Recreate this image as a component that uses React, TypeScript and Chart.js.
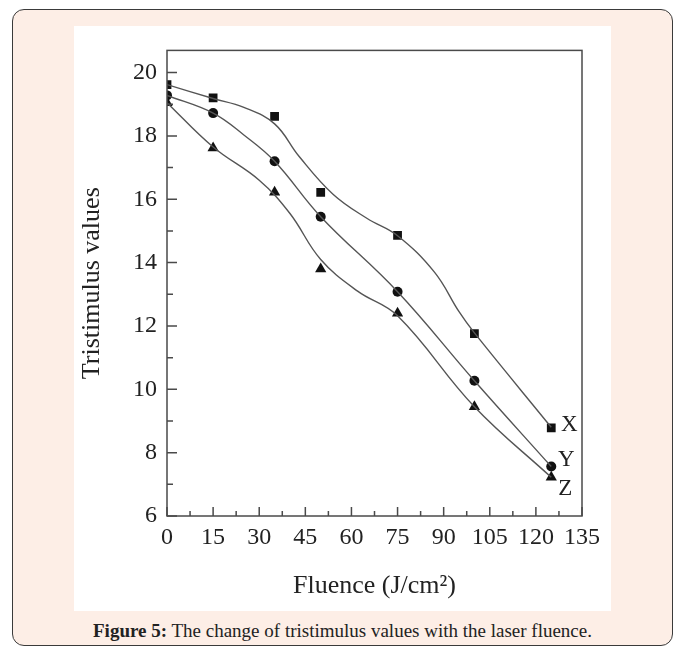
import React, { useEffect, useRef } from 'react';
import { Chart, registerables } from 'chart.js';

Chart.register(...registerables);

// Measured points
const fluence = [0, 15, 35, 50, 75, 100, 125];
const xValues = [19.62, 19.2, 18.62, 16.22, 14.86, 11.76, 8.78];
const yValues = [19.28, 18.72, 17.2, 15.45, 13.08, 10.27, 7.56];
const zValues = [19.05, 17.62, 16.22, 13.8, 12.4, 9.45, 7.22];

// Fitted curves
const xFitFluence = [0, 15, 25, 35, 43, 54, 65, 75, 87, 95, 100, 125];
const xFitValues = [19.62, 19.18, 18.9, 18.38, 17.35, 16.16, 15.4, 14.85, 13.7, 12.45, 11.78, 8.8];
const yFitFluence = [0, 15, 25, 35, 50, 75, 100, 125];
const yFitValues = [19.28, 18.72, 18.03, 17.2, 15.45, 13.08, 10.27, 7.56];
const zFitFluence = [0, 15, 30, 40, 50, 62, 75, 100, 125];
const zFitValues = [19.05, 17.65, 16.6, 15.55, 14.1, 13.1, 12.32, 9.45, 7.22];

const seriesNames = ['X', 'Y', 'Z'];
const xTickValues = [0, 15, 30, 45, 60, 75, 90, 105, 120, 135];
const yTickValues = [6, 8, 10, 12, 14, 16, 18, 20];

const xTitle = 'Fluence (J/cm\u00B2)';
const yTitle = 'Tristimulus values';
const captionBold = 'Figure 5:';
const captionText = ' The change of tristimulus values with the laser fluence.';

const SERIF = '"Liberation Serif", "Times New Roman", serif';
const AXIS_COLOR = '#4a4a4a';
const TEXT_COLOR = '#222';

const toXY = (xs: number[], ys: number[]) => xs.map((x, i) => ({ x, y: ys[i] }));

const framePlugin = {
  id: 'framePlugin',
  afterDraw(chart: any) {
    const { ctx, chartArea } = chart;
    const xs = chart.scales.x;
    const ys = chart.scales.y;
    ctx.save();
    ctx.strokeStyle = AXIS_COLOR;
    ctx.lineWidth = 1.5;
    ctx.strokeRect(chartArea.left, chartArea.top, chartArea.right - chartArea.left, chartArea.bottom - chartArea.top);
    ctx.beginPath();
    for (let i = 0; i < xTickValues.length; i++) {
      const px = xs.getPixelForValue(xTickValues[i]);
      ctx.moveTo(px, chartArea.bottom);
      ctx.lineTo(px, chartArea.bottom - 9);
      if (i < xTickValues.length - 1) {
        const mx = xs.getPixelForValue((xTickValues[i] + xTickValues[i + 1]) / 2);
        ctx.moveTo(mx, chartArea.bottom);
        ctx.lineTo(mx, chartArea.bottom - 5);
      }
    }
    for (let i = 0; i < yTickValues.length; i++) {
      const py = ys.getPixelForValue(yTickValues[i]);
      ctx.moveTo(chartArea.left, py);
      ctx.lineTo(chartArea.left + 10, py);
      if (i < yTickValues.length - 1) {
        const my = ys.getPixelForValue((yTickValues[i] + yTickValues[i + 1]) / 2);
        ctx.moveTo(chartArea.left, my);
        ctx.lineTo(chartArea.left + 6, my);
      }
    }
    ctx.stroke();

    const offsets = [
      [18, -3],
      [15, -7],
      [14, 12],
    ];
    const lastVals = [xValues, yValues, zValues].map((a) => a[a.length - 1]);
    const lastX = fluence[fluence.length - 1];
    ctx.fillStyle = TEXT_COLOR;
    ctx.font = '23px ' + SERIF;
    ctx.textAlign = 'center';
    ctx.textBaseline = 'middle';
    seriesNames.forEach((name, i) => {
      const px = xs.getPixelForValue(lastX) + offsets[i][0];
      const py = ys.getPixelForValue(lastVals[i]) + offsets[i][1];
      ctx.fillText(name, px, py);
    });
    ctx.restore();
  },
};

function App() {
  const ref = useRef<HTMLCanvasElement | null>(null);

  useEffect(() => {
    if (!ref.current) return;
    const lineDs = (data: any) => ({
      type: 'line',
      data,
      showLine: true,
      borderColor: '#555',
      borderWidth: 1.4,
      pointRadius: 0,
      fill: false,
      tension: 0.4,
      cubicInterpolationMode: 'default',
      clip: 0,
    });
    const ptDs = (data: any, style: string, r: number) => ({
      type: 'scatter',
      data,
      showLine: false,
      pointStyle: style,
      pointRadius: r,
      pointBackgroundColor: '#111',
      pointBorderColor: '#111',
      pointBorderWidth: 0,
      clip: 0,
    });
    const chart = new Chart(ref.current, {
      type: 'scatter',
      data: {
        datasets: [
          lineDs(toXY(xFitFluence, xFitValues)),
          lineDs(toXY(yFitFluence, yFitValues)),
          lineDs(toXY(zFitFluence, zFitValues)),
          ptDs(toXY(fluence, xValues), 'rect', 6.2),
          ptDs(toXY(fluence, yValues), 'circle', 5),
          ptDs(toXY(fluence, zValues), 'triangle', 6.5),
        ] as any,
      },
      options: {
        responsive: false,
        animation: false,
        devicePixelRatio: 1,
        layout: { padding: { top: 10, right: 29, left: 0, bottom: 0 } },
        plugins: { legend: { display: false }, tooltip: { enabled: false } },
        events: [],
        scales: {
          x: {
            type: 'linear',
            min: 0,
            max: 135,
            grid: { display: false, drawTicks: false },
            border: { display: false },
            afterBuildTicks: (s: any) => {
              s.ticks = xTickValues.map((v) => ({ value: v }));
            },
            afterFit: (s: any) => {
              s.height = 95;
            },
            ticks: {
              color: TEXT_COLOR,
              font: { family: SERIF, size: 24 },
              padding: 7,
              maxRotation: 0,
              autoSkip: false,
            },
            title: {
              display: true,
              text: xTitle,
              color: TEXT_COLOR,
              font: { family: SERIF, size: 26 },
              padding: { top: 0, bottom: 9 },
            },
          },
          y: {
            type: 'linear',
            min: 6,
            max: 20.7,
            grid: { display: false, drawTicks: false },
            border: { display: false },
            afterBuildTicks: (s: any) => {
              s.ticks = yTickValues.map((v) => ({ value: v }));
            },
            afterFit: (s: any) => {
              s.width = 93;
            },
            ticks: {
              color: TEXT_COLOR,
              font: { family: SERIF, size: 24 },
              padding: 10,
              autoSkip: false,
            },
            title: {
              display: true,
              text: yTitle,
              color: TEXT_COLOR,
              font: { family: SERIF, size: 26 },
              padding: { top: 3, bottom: 0 },
            },
          },
        },
      } as any,
      plugins: [framePlugin],
    });
    return () => chart.destroy();
  }, []);

  return (
    <div style={{ position: 'absolute', left: 0, top: 0, width: 676, height: 650, overflow: 'hidden', background: '#fff' }}>
      <div
        style={{
          position: 'absolute',
          left: 12,
          top: 9,
          width: 661,
          height: 637,
          boxSizing: 'border-box',
          border: '1.5px solid #3a3a3a',
          borderRadius: 12,
          background: '#fdeee6',
        }}
      />
      <div style={{ position: 'absolute', left: 74, top: 26, width: 537, height: 585, background: '#fff' }}>
        <canvas ref={ref} width={537} height={585} style={{ display: 'block', width: 537, height: 585 }} />
      </div>
      <div
        style={{
          position: 'absolute',
          left: 12,
          width: 661,
          top: 620,
          textAlign: 'center',
          fontFamily: SERIF,
          fontSize: 19,
          lineHeight: '22px',
          color: TEXT_COLOR,
        }}
      >
        <b>{captionBold}</b>
        {captionText}
      </div>
    </div>
  );
}

export default App;
